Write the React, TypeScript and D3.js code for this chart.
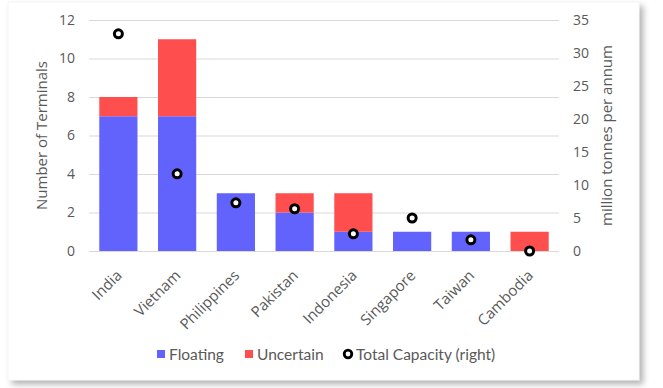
import { useEffect, useRef } from "react";
import * as d3 from "d3";

const countries = [
  "India",
  "Vietnam",
  "Philippines",
  "Pakistan",
  "Indonesia",
  "Singapore",
  "Taiwan",
  "Cambodia",
];
const floating = [7, 7, 3, 2, 1, 1, 1, 0];
const uncertain = [1, 4, 0, 1, 2, 0, 0, 1];
const capacity = [32.9, 11.7, 7.3, 6.4, 2.6, 5.0, 1.7, 0];

const leftTicks = [0, 2, 4, 6, 8, 10, 12];
const rightTicks = [0, 5, 10, 15, 20, 25, 30, 35];

const BLUE = "#6262fd";
const RED = "#fe4e4e";
const TEXT = "#595959";
const GRID = "#d9d9d9";
const FONT = "'Open Sans', sans-serif";
const LEGEND_FONT = "Lato, sans-serif";

export default function App() {
  const svgRef = useRef<SVGSVGElement>(null);

  useEffect(() => {
    if (!svgRef.current) return;
    const width = 663;
    const height = 388;
    const svg = d3.select(svgRef.current);
    svg.selectAll("*").remove();
    svg.attr("width", width).attr("height", height);

    // card with soft shadow
    const defs = svg.append("defs");
    const filter = defs
      .append("filter")
      .attr("id", "shadow")
      .attr("x", "-5%")
      .attr("y", "-5%")
      .attr("width", "115%")
      .attr("height", "115%");
    filter
      .append("feDropShadow")
      .attr("dx", 4)
      .attr("dy", 4)
      .attr("stdDeviation", 3)
      .attr("flood-color", "#000")
      .attr("flood-opacity", 0.3);

    svg
      .append("rect")
      .attr("x", 8)
      .attr("y", 2)
      .attr("width", 631)
      .attr("height", 378)
      .attr("fill", "#fff")
      .attr("stroke", "#ececec")
      .attr("stroke-width", 0.5)
      .attr("filter", "url(#shadow)");

    const plot = { left: 89, right: 559, top: 20, bottom: 251 };

    const x = d3
      .scaleBand<string>()
      .domain(countries)
      .range([plot.left, plot.right])
      .paddingInner(0.35)
      .paddingOuter(0.175);
    const yL = d3.scaleLinear().domain([0, 12]).range([plot.bottom, plot.top]);
    const yR = d3.scaleLinear().domain([0, 35]).range([plot.bottom, plot.top]);

    const g = svg.append("g");

    // gridlines
    g.selectAll("line.grid")
      .data(leftTicks)
      .join("line")
      .attr("class", "grid")
      .attr("x1", plot.left)
      .attr("x2", plot.right)
      .attr("y1", (d) => yL(d) + 0.5)
      .attr("y2", (d) => yL(d) + 0.5)
      .attr("stroke", GRID)
      .attr("stroke-width", 1);

    // left axis labels
    g.selectAll("text.lt")
      .data(leftTicks)
      .join("text")
      .attr("class", "lt")
      .attr("x", 75)
      .attr("y", (d) => yL(d))
      .attr("dy", "0.35em")
      .attr("text-anchor", "end")
      .attr("font-family", FONT)
      .attr("font-size", 14)
      .attr("fill", TEXT)
      .text((d) => d);

    // right axis labels
    g.selectAll("text.rt")
      .data(rightTicks)
      .join("text")
      .attr("class", "rt")
      .attr("x", 573)
      .attr("y", (d) => yR(d))
      .attr("dy", "0.35em")
      .attr("text-anchor", "start")
      .attr("font-family", FONT)
      .attr("font-size", 14)
      .attr("fill", TEXT)
      .text((d) => d);

    // axis titles
    g.append("text")
      .attr("transform", `translate(47,${(plot.top + plot.bottom) / 2}) rotate(-90)`)
      .attr("text-anchor", "middle")
      .attr("font-family", FONT)
      .attr("font-size", 15)
      .attr("fill", TEXT)
      .text("Number of Terminals");

    g.append("text")
      .attr("transform", `translate(612,${(plot.top + plot.bottom) / 2}) rotate(-90)`)
      .attr("text-anchor", "middle")
      .attr("font-family", FONT)
      .attr("font-size", 15)
      .attr("fill", TEXT)
      .text("million tonnes per annum");

    // stacked bars
    const rows = countries.map((c, i) => ({
      country: c,
      floating: floating[i],
      uncertain: uncertain[i],
      capacity: capacity[i],
    }));

    g.selectAll("rect.fl")
      .data(rows)
      .join("rect")
      .attr("class", "fl")
      .attr("x", (d) => x(d.country)!)
      .attr("width", x.bandwidth())
      .attr("y", (d) => yL(d.floating))
      .attr("height", (d) => yL(0) - yL(d.floating))
      .attr("fill", BLUE);

    g.selectAll("rect.un")
      .data(rows)
      .join("rect")
      .attr("class", "un")
      .attr("x", (d) => x(d.country)!)
      .attr("width", x.bandwidth())
      .attr("y", (d) => yL(d.floating + d.uncertain))
      .attr("height", (d) => yL(d.floating) - yL(d.floating + d.uncertain))
      .attr("fill", RED);

    // capacity markers
    g.selectAll("circle.cap")
      .data(rows)
      .join("circle")
      .attr("class", "cap")
      .attr("cx", (d) => x(d.country)! + x.bandwidth() / 2)
      .attr("cy", (d) => yR(d.capacity))
      .attr("r", 4)
      .attr("fill", "#fff")
      .attr("stroke", "#000")
      .attr("stroke-width", 3);

    // category labels
    g.selectAll("text.cat")
      .data(countries)
      .join("text")
      .attr("class", "cat")
      .attr(
        "transform",
        (d) => `translate(${x(d)! + x.bandwidth() / 2 - 3},${plot.bottom + 18}) rotate(-45)`
      )
      .attr("text-anchor", "end")
      .attr("dy", "0.7em")
      .attr("font-family", FONT)
      .attr("font-size", 15)
      .attr("fill", TEXT)
      .text((d) => d);

    // legend
    const legendY = 355;
    const lg = g
      .append("g")
      .attr("font-family", LEGEND_FONT)
      .attr("font-size", 15.5)
      .attr("fill", TEXT);
    lg.append("rect").attr("x", 157).attr("y", legendY - 5).attr("width", 8).attr("height", 8).attr("fill", BLUE);
    lg.append("text").attr("x", 169).attr("y", legendY).attr("dy", "0.35em").text("Floating");
    lg.append("rect").attr("x", 245).attr("y", legendY - 5).attr("width", 8).attr("height", 8).attr("fill", RED);
    lg.append("text").attr("x", 257).attr("y", legendY).attr("dy", "0.35em").text("Uncertain");
    lg.append("circle")
      .attr("cx", 348)
      .attr("cy", legendY - 1)
      .attr("r", 3.8)
      .attr("fill", "#fff")
      .attr("stroke", "#000")
      .attr("stroke-width", 2.8);
    lg.append("text").attr("x", 356).attr("y", legendY).attr("dy", "0.35em").text("Total Capacity (right)");
  }, []);

  return (
    <svg
      ref={svgRef}
      style={{ position: "absolute", left: 0, top: 0, display: "block" }}
    />
  );
}
